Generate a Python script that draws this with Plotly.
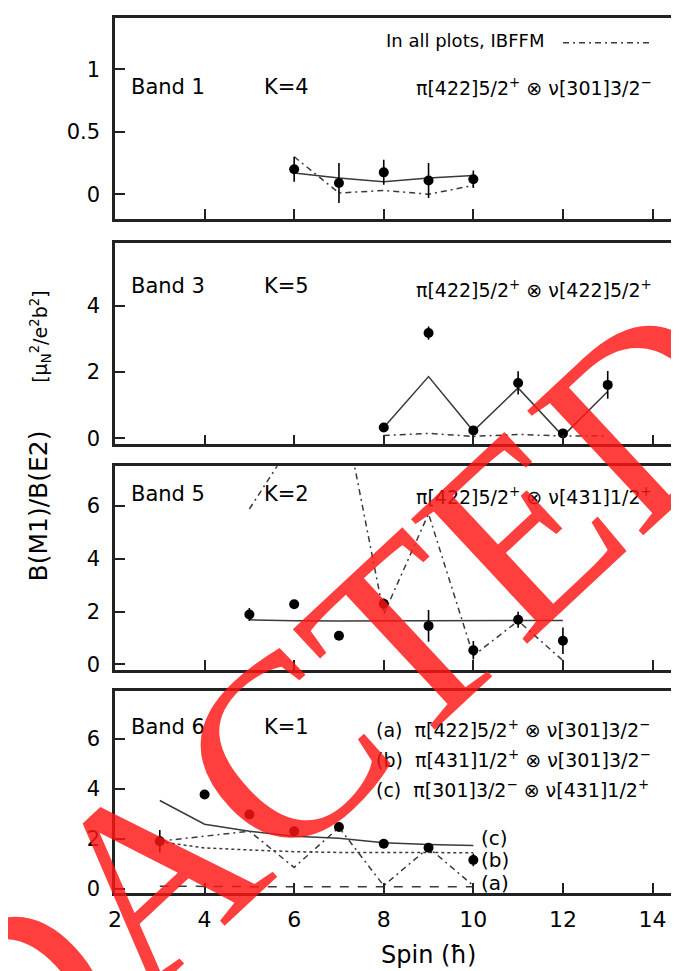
import plotly.graph_objects as go

# ---------------- data ----------------
spin_b1 = [6, 7, 8, 9, 10]
exp_b1 = [0.20, 0.09, 0.175, 0.11, 0.12]
err_b1 = [0.10, 0.16, 0.10, 0.14, 0.07]
rot_b1 = [0.17, 0.13, 0.10, 0.13, 0.15]
ibffm_b1 = [0.30, 0.01, 0.03, 0.00, 0.07]

spin_b3 = [8, 9, 10, 11, 12, 13]
exp_b3 = [0.33, 3.17, 0.24, 1.67, 0.15, 1.61]
err_b3 = [0.04, 0.20, 0.04, 0.35, 0.04, 0.42]
rot_b3 = [0.33, 1.86, 0.22, 1.52, 0.07, 1.41]
ibffm_b3 = [0.09, 0.15, 0.06, 0.12, 0.07, 0.08]

spin_b5 = [5, 6, 7, 8, 9, 10, 11, 12]
exp_b5 = [1.89, 2.28, 1.09, 2.30, 1.46, 0.54, 1.69, 0.90]
err_b5 = [0.25, 0.08, 0.08, 0.20, 0.60, 0.35, 0.30, 0.50]
rot_b5 = [1.69, 1.65, 1.64, 1.65, 1.65, 1.65, 1.66, 1.66]
ibffm_b5 = [5.88, 8.5, 10.5, 1.90, 5.70, 0.33, 1.65, 0.15]

spin_b6 = [3, 4, 5, 6, 7, 8, 9, 10]
exp_b6 = [1.90, 3.77, 2.97, 2.30, 2.47, 1.80, 1.64, 1.15]
err_b6 = [0.45, 0.15, 0.08, 0.08, 0.08, 0.08, 0.08, 0.25]
calc_a_b6 = [0.10, 0.08, 0.08, 0.08, 0.08, 0.08, 0.08, 0.08]
calc_b_b6 = [1.88, 1.63, 1.55, 1.48, 1.45, 1.44, 1.44, 1.44]
calc_c_b6 = [3.53, 2.58, 2.30, 2.10, 2.02, 1.84, 1.77, 1.73]
ibffm_b6 = [1.90, 2.10, 2.30, 0.85, 2.45, 0.12, 1.64, 0.12]

x_ticks = [2, 4, 6, 8, 10, 12, 14]
x_range = [2, 14.77]

W, H = 679, 971
ML = 107
PW = W - ML

FONT = "DejaVu Sans"
LINE = "#3a3a3a"
DASHDOT = "6px,4px,2px,4px"

# panel pixel extents (top, bottom)
panels = [(10, 213), (237, 440), (462, 667), (689, 892)]
y_ranges = [[-0.2, 1.41], [-0.18, 5.88], [-0.19, 7.5], [-0.16, 7.9]]
y_ticks = [[0, 0.5, 1], [0, 2, 4], [0, 2, 4, 6], [0, 2, 4, 6]]


def px(x):
    return (x - ML) / PW


def py(y):
    return (H - y) / H


fig = go.Figure()


def add_exp(spin, val, err, n):
    fig.add_trace(go.Scatter(
        x=spin, y=val, mode="markers", xaxis=f"x{n}", yaxis=f"y{n}",
        marker=dict(size=10, color="black"),
        error_y=dict(type="data", array=err, width=0, thickness=1.6, color="black"),
        showlegend=False, cliponaxis=False))


def add_line(spin, val, n, dash="solid", width=1.5):
    fig.add_trace(go.Scatter(
        x=spin, y=val, mode="lines", xaxis=f"x{n}", yaxis=f"y{n}",
        line=dict(color=LINE, width=width, dash=dash), showlegend=False))


# Band 1
add_line(spin_b1, rot_b1, 1)
add_line(spin_b1, ibffm_b1, 1, DASHDOT)
add_exp(spin_b1, exp_b1, err_b1, 1)
# Band 3
add_line(spin_b3, rot_b3, 2)
add_line(spin_b3, ibffm_b3, 2, DASHDOT)
add_exp(spin_b3, exp_b3, err_b3, 2)
# Band 5
add_line(spin_b5, rot_b5, 3)
add_line(spin_b5, ibffm_b5, 3, DASHDOT)
add_exp(spin_b5, exp_b5, err_b5, 3)
# Band 6
add_line(spin_b6, calc_c_b6, 4)
add_line(spin_b6, calc_b_b6, 4, "dot")
add_line(spin_b6, calc_a_b6, 4, "dash")
add_line(spin_b6, ibffm_b6, 4, DASHDOT)
add_exp(spin_b6, exp_b6, err_b6, 4)

layout = dict(
    width=W, height=H,
    margin=dict(l=ML, r=0, t=0, b=0),
    paper_bgcolor="white", plot_bgcolor="white",
    font=dict(family=FONT, color="black", size=20),
    showlegend=False,
)
for i, ((top, bot), yr, yt) in enumerate(zip(panels, y_ranges, y_ticks), start=1):
    sfx = "" if i == 1 else str(i)
    layout[f"xaxis{sfx}"] = dict(
        domain=[0, 1], range=x_range, anchor=f"y{sfx}",
        tickvals=x_ticks, ticks="inside", ticklen=10, tickwidth=1.5,
        tickcolor="#222", showline=True, linecolor="#222", linewidth=2.5,
        mirror=True, showgrid=False, zeroline=False,
        showticklabels=(i == 4), tickfont=dict(size=22),
        ticklabelstandoff=5,
    )
    layout[f"yaxis{sfx}"] = dict(
        domain=[py(bot), py(top)], range=yr, anchor=f"x{sfx}",
        tickvals=yt, ticks="inside", ticklen=10, tickwidth=1.5,
        tickcolor="#222", showline=True, linecolor="#222", linewidth=2.5,
        showgrid=False, zeroline=False, tickfont=dict(size=21),
        ticklabelstandoff=8,
    )
fig.update_layout(**layout)

ann = []


def txt(x, y, s, size=21, xanchor="left"):
    ann.append(dict(x=px(x), y=py(y), xref="paper", yref="paper", text=s,
                    showarrow=False, xanchor=xanchor, yanchor="middle",
                    font=dict(size=size, family=FONT, color="black")))


F1 = "π[422]5/2<sup>+</sup> ⊗ ν[301]3/2<sup>−</sup>"
F3 = "π[422]5/2<sup>+</sup> ⊗ ν[422]5/2<sup>+</sup>"
F5 = "π[422]5/2<sup>+</sup> ⊗ ν[431]1/2<sup>+</sup>"
FA = "(a)  π[422]5/2<sup>+</sup> ⊗ ν[301]3/2<sup>−</sup>"
FB = "(b)  π[431]1/2<sup>+</sup> ⊗ ν[301]3/2<sup>−</sup>"
FC = "(c)  π[301]3/2<sup>−</sup> ⊗ ν[431]1/2<sup>+</sup>"

txt(121, 80, "Band 1")
txt(254, 80, "K=4")
txt(406, 80, F1, size=19)
txt(376, 33, "In all plots, IBFFM", size=18)

txt(121, 280, "Band 3")
txt(254, 280, "K=5")
txt(406, 283, F3, size=19)

txt(121, 490, "Band 5")
txt(254, 490, "K=2")
txt(406, 492, F5, size=19)

txt(121, 725, "Band 6")
txt(254, 725, "K=1")
txt(366, 727, FA, size=19)
txt(366, 757, FB, size=19)
txt(366, 787, FC, size=19)
txt(471, 837, "(c)", size=20)
txt(471, 859, "(b)", size=20)
txt(471, 882, "(a)", size=20)

ann.append(dict(x=px(420), y=py(955), xref="paper", yref="paper",
                text="Spin (ħ)", showarrow=False, xanchor="center", yanchor="middle",
                font=dict(size=24, family=FONT)))
ann.append(dict(x=px(31), y=py(432), xref="paper", yref="paper",
                text=("B(M1)/B(E2)      "
                      "<span style='font-size:19px'>[μ<sub>N</sub><sup>2</sup>/"
                      "e<sup>2</sup>b<sup>2</sup>]</span>"),
                showarrow=False, textangle=-90,
                xanchor="center", yanchor="middle",
                font=dict(size=25, family=FONT)))

# redaction stamp overlaid on the reference picture
ann.append(dict(x=px(200), y=py(820), xref="paper", yref="paper",
                text="REDACTED", showarrow=False, textangle=-43,
                xanchor="center", yanchor="middle",
                font=dict(size=260, family="Liberation Serif", color="rgba(255,20,20,0.82)")))

fig.update_layout(annotations=ann)

# IBFFM legend sample line (top panel)
fig.add_shape(type="line", xref="paper", yref="paper",
              x0=px(555), x1=px(645), y0=py(35), y1=py(35),
              line=dict(color=LINE, width=1.5, dash=DASHDOT))

fig.write_html("out.html")
